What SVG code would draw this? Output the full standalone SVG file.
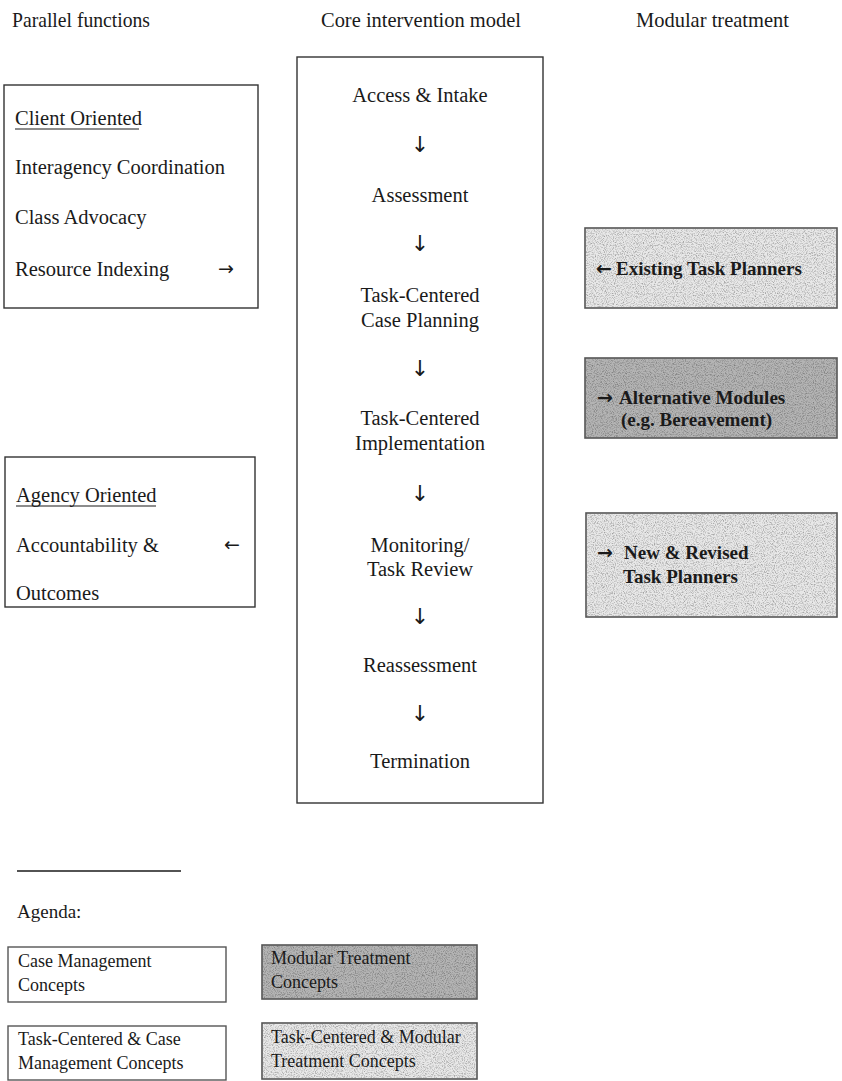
<svg xmlns="http://www.w3.org/2000/svg" width="842" height="1081" viewBox="0 0 842 1081">
<style>
text{font-family:"Liberation Serif","Times New Roman",serif;fill:#1a1a1a}
.h{font-size:21px}
.b{font-size:20.5px}
.c{font-size:20.5px;text-anchor:middle}
.r{font-size:19px;font-weight:bold}
.s{font-size:18px}
.ar{font-family:"DejaVu Sans",sans-serif;font-size:19px}
.dn{font-family:"DejaVu Sans",sans-serif;font-size:22px}
.box{fill:#fff;stroke:#333;stroke-width:1.4}
.lt{fill:#e8e8e8;stroke:#555;stroke-width:1.6}
.dk{fill:#b4b4b4;stroke:#555;stroke-width:1.6}
.gr{opacity:0.3}
</style>
<defs>
<filter id="noise" x="0" y="0" width="1" height="1">
<feTurbulence type="fractalNoise" baseFrequency="0.9" numOctaves="2" seed="7"/>
<feColorMatrix type="matrix" values="0 0 0 0 0  0 0 0 0 0  0 0 0 0 0  2.6 0 0 0 -1.15"/>
</filter>
</defs>
<g id="headers">
<text class="h" x="12" y="27" textLength="138" lengthAdjust="spacingAndGlyphs">Parallel functions</text>
<text class="h" x="321" y="27" textLength="200" lengthAdjust="spacingAndGlyphs">Core intervention model</text>
<text class="h" x="636" y="27" textLength="153" lengthAdjust="spacingAndGlyphs">Modular treatment</text>
</g>
<g id="client-oriented">
<rect class="box" x="4" y="85" width="254" height="223"/>
<text class="b" x="15" y="125">Client Oriented</text>
<line x1="15" y1="129" x2="139" y2="129" stroke="#1a1a1a" stroke-width="1.2"/>
<text class="b" x="15" y="174">Interagency Coordination</text>
<text class="b" x="15" y="224">Class Advocacy</text>
<text class="b" x="15" y="276">Resource Indexing</text>
<text class="ar" x="218" y="275">→</text>
</g>
<g id="agency-oriented">
<rect class="box" x="5" y="457" width="250" height="150"/>
<text class="b" x="16" y="502">Agency Oriented</text>
<line x1="16" y1="506" x2="156" y2="506" stroke="#1a1a1a" stroke-width="1.2"/>
<text class="b" x="16" y="552">Accountability &amp;</text>
<text class="ar" x="224" y="551">←</text>
<text class="b" x="16" y="600">Outcomes</text>
</g>
<g id="core-model">
<rect class="box" x="297" y="57" width="246" height="746"/>
<text class="c" x="420" y="102">Access &amp; Intake</text>
<text class="c" x="420" y="202">Assessment</text>
<text class="c" x="420" y="302">Task-Centered</text>
<text class="c" x="420" y="327">Case Planning</text>
<text class="c" x="420" y="425">Task-Centered</text>
<text class="c" x="420" y="450">Implementation</text>
<text class="c" x="420" y="552">Monitoring/</text>
<text class="c" x="420" y="576">Task Review</text>
<text class="c" x="420" y="672">Reassessment</text>
<text class="c" x="420" y="768">Termination</text>
</g>
<g id="connectors" text-anchor="middle">
<text class="dn" x="420" y="152">↓</text>
<text class="dn" x="420" y="251">↓</text>
<text class="dn" x="420" y="376">↓</text>
<text class="dn" x="420" y="501">↓</text>
<text class="dn" x="420" y="624">↓</text>
<text class="dn" x="420" y="721">↓</text>
</g>
<g id="existing-task-planners">
<rect class="lt" x="585" y="228" width="252" height="80"/>
<rect class="gr" x="586" y="229" width="250" height="78" filter="url(#noise)"/>
<text class="ar" x="596" y="275" font-weight="bold" font-size="17">←</text>
<text class="r" x="616" y="275">Existing Task Planners</text>
</g>
<g id="alternative-modules">
<rect class="dk" x="585" y="358" width="252" height="80"/>
<rect class="gr" x="586" y="359" width="250" height="78" filter="url(#noise)"/>
<text class="ar" x="597" y="404" font-weight="bold" font-size="17">→</text>
<text class="r" x="619" y="404">Alternative Modules</text>
<text class="r" x="621" y="426">(e.g. Bereavement)</text>
</g>
<g id="new-revised-task-planners">
<rect class="lt" x="586" y="513" width="251" height="104"/>
<rect class="gr" x="587" y="514" width="249" height="102" filter="url(#noise)"/>
<text class="ar" x="597" y="559" font-weight="bold" font-size="17">→</text>
<text class="r" x="624" y="559">New &amp; Revised</text>
<text class="r" x="623" y="583">Task Planners</text>
</g>
<g id="agenda">
<line x1="17" y1="871" x2="181" y2="871" stroke="#1a1a1a" stroke-width="1.4"/>
<text class="b" x="17" y="918" style="font-size:19px">Agenda:</text>
</g>
<g id="legend-case-management">
<rect class="box" x="8" y="947" width="218" height="55" style="stroke:#555"/>
<text class="s" x="18" y="967">Case Management</text>
<text class="s" x="18" y="991">Concepts</text>
</g>
<g id="legend-modular-treatment">
<rect class="dk" x="262" y="945" width="215" height="54"/>
<rect class="gr" x="263" y="946" width="213" height="52" filter="url(#noise)"/>
<text class="s" x="271" y="964">Modular Treatment</text>
<text class="s" x="271" y="988">Concepts</text>
</g>
<g id="legend-tc-case-management">
<rect class="box" x="8" y="1026" width="218" height="54" style="stroke:#555"/>
<text class="s" x="18" y="1045">Task-Centered &amp; Case</text>
<text class="s" x="18" y="1069">Management Concepts</text>
</g>
<g id="legend-tc-modular">
<rect class="lt" x="262" y="1023" width="215" height="56"/>
<rect class="gr" x="263" y="1024" width="213" height="54" filter="url(#noise)"/>
<text class="s" x="271" y="1043">Task-Centered &amp; Modular</text>
<text class="s" x="271" y="1067">Treatment Concepts</text>
</g>
</svg>
